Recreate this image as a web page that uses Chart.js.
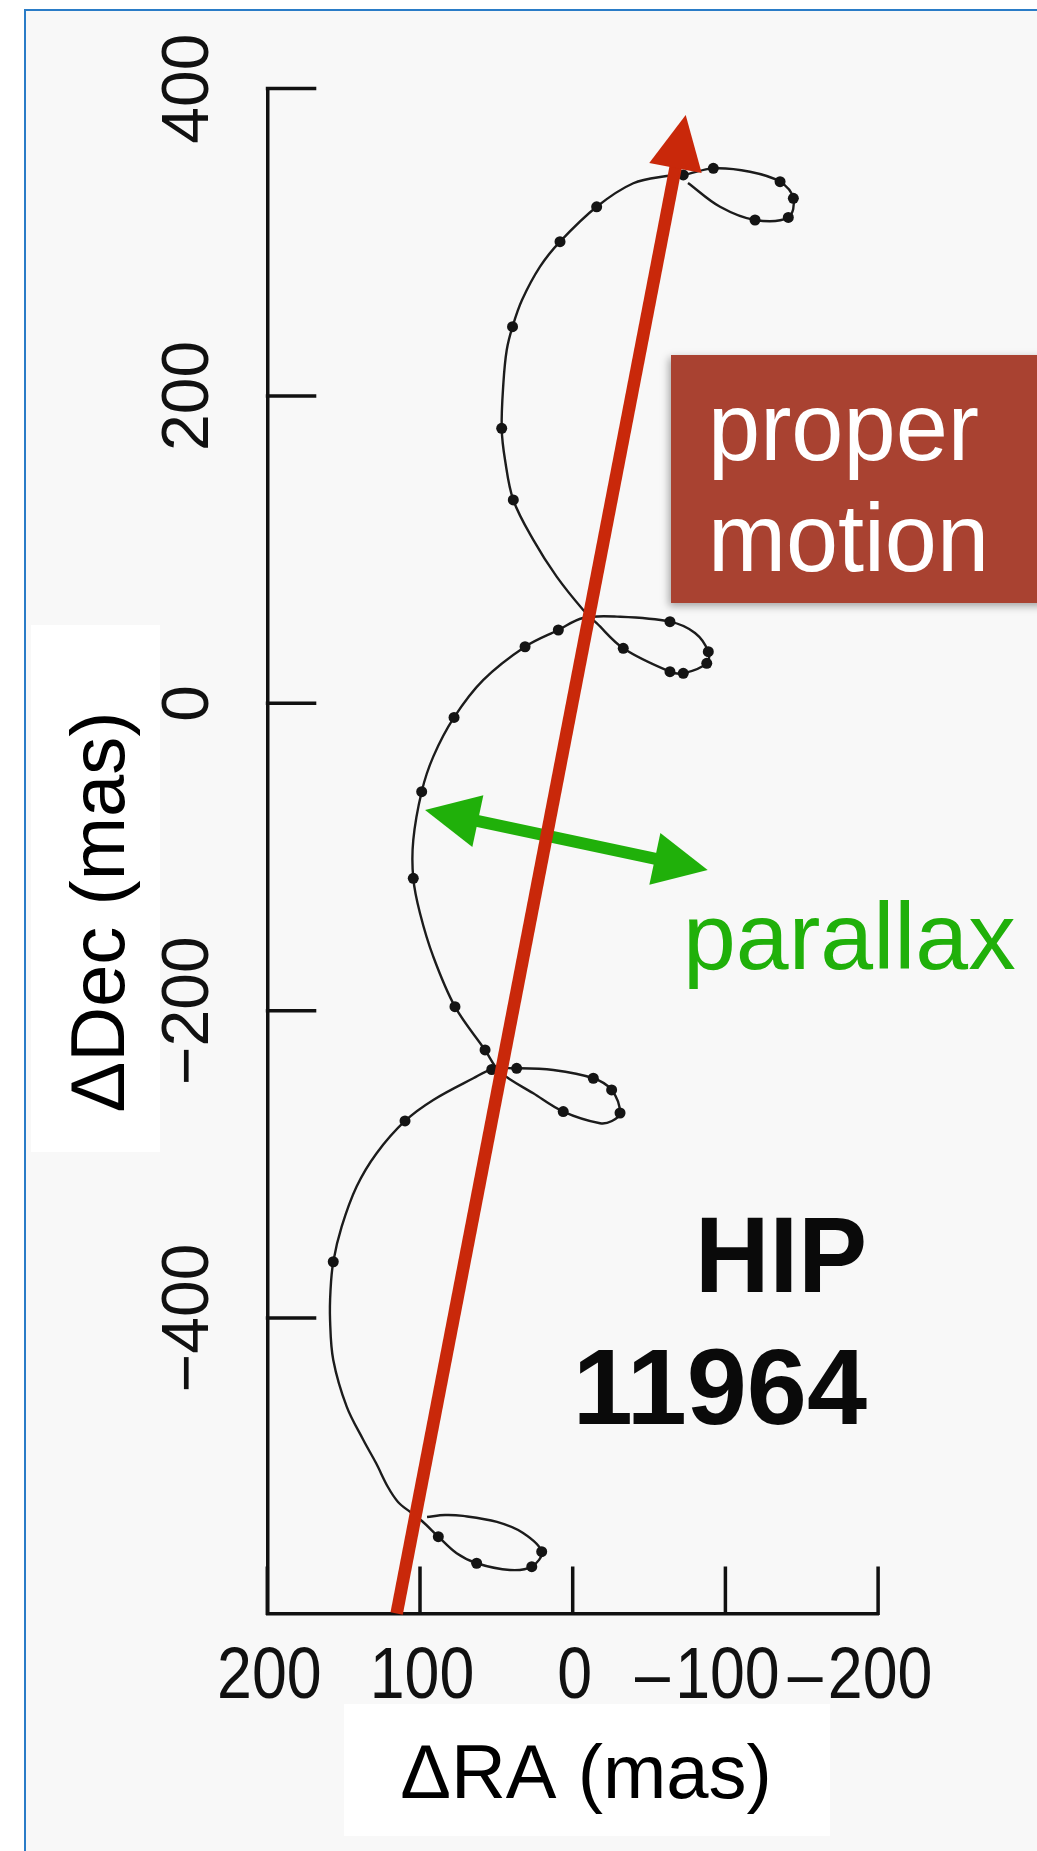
<!DOCTYPE html>
<html>
<head>
<meta charset="utf-8">
<script src="https://cdn.jsdelivr.net/npm/chart.js@4.4.1/dist/chart.umd.min.js"></script>
<style>
  html, body { margin: 0; padding: 0; background: #ffffff; }
  #wrap { width: 1037px; height: 1851px; position: relative; overflow: hidden; }
  canvas { display: block; }
</style>
</head>
<body>
<div id="wrap"><canvas id="c" width="1037" height="1851"></canvas></div>
<script>
// ---- data (mas) ----
const curveRA = [95.4, 83.6, 71.8, 49.6, 32.5, 20.3, 26.8, 41.1, 62.9, 76.0,
  88.0, 98.7, 106.5, 114.4, 121.0, 128.8, 137.1, 148.0, 156.8, 158.9, 158.6,
  156.8, 151.3, 141.5, 128.4, 109.8, 91.3, 65.1, 53.0, 36.7, 12.7,
  -13.5, -25.5, -31.0, -25.7, -17.9, 6.2, 25.8, 47.6, 57.4, 77.1,
  91.3, 100.0, 104.4, 104.4, 98.9, 91.3, 77.7, 58.5, 31.2, 9.4,
  -6.7, -29.0, -63.7, -80.1, -88.8, -87.8, -72.4, -63.7, -33.1, -15.7,
  -6.9, 10.5, 25.8, 38.9, 44.3, 46.5, 45.4, 43.2, 39.4, 33.2,
  21.4, 8.3, -15.7, -39.7, -61.6, -72.4, -92.1, -116.1, -135.8, -144.5,
  -141.2, -119.4, -96.5, -75.5];
const curveDec = [-529.5, -528.2, -528.8, -532.7, -539.9, -552.1, -561.8, -564.0, -559.6, -553.1,
  -542.3, -532.1, -526.2, -519.7, -510.0, -494.4, -479.4, -457.7, -427.3, -401.3, -381.8,
  -363.4, -340.6, -314.5, -292.8, -271.8, -258.1, -244.0, -238.3, -237.5, -238.6,
  -244.0, -251.6, -266.6, -271.8, -273.3, -265.7, -253.8, -239.9, -225.6, -197.4,
  -164.9, -136.6, -113.9, -89.0, -57.5, -34.7, -9.2, 15.2, 36.8, 47.7,
  55.5, 56.4, 53.1, 45.7, 33.6, 26.0, 19.5, 20.6, 35.8, 52.1,
  60.7, 82.4, 106.3, 132.3, 158.3, 178.9, 208.2, 229.9, 245.1, 262.4,
  284.1, 300.4, 323.1, 338.4, 343.1, 343.8, 348.1, 345.9, 339.4, 328.6,
  316.2, 314.5, 323.1, 338.6];
const obsRA = [20.3, 26.8, 62.9, 88.0, 156.8, 109.8, 53.0, 36.7, -13.5, -25.5,
  -31.0, 6.2, 57.4, 77.1, 104.4, 98.9, 77.7, 31.2, 9.4, -63.7,
  -88.8, -87.8, -72.4, -63.7, -33.1, 38.9, 46.5, 39.4, 8.3, -15.7,
  -72.4, -92.1, -135.8, -144.5, -141.2, -119.4];
const obsDec = [-552.1, -561.8, -559.6, -542.3, -363.4, -271.8, -238.3, -237.5, -244.0, -251.6,
  -266.6, -265.7, -225.6, -197.4, -113.9, -57.5, -9.2, 36.8, 47.7, 53.1,
  33.6, 26.0, 19.5, 20.6, 35.8, 132.3, 178.9, 245.1, 300.4, 323.1,
  343.8, 348.1, 339.4, 328.6, 316.2, 314.5];
const properMotionRA = [115.3, -74.0];
const properMotionDec = [-592.3, 382.8];
const parallaxRA = [96.7, -88.4];
const parallaxDec = [-69.4, -108.5];
const raTicks = [200, 100, 0, -100, -200];
const decTicks = [400, 200, 0, -200, -400];
const raMin = -200, raMax = 200;
const decMin = -592.3, decMax = 400;

const toXY = (xs, ys) => xs.map((x, i) => ({ x: x, y: ys[i] }));
const fmt = v => (v < 0 ? '\u2212' + Math.abs(v) : String(v));

const W = 1037, H = 1851;

function arrowHead(ctx, tx, ty, ux, uy, len, half) {
  const px = -uy, py = ux;
  const bx = tx - ux * len, by = ty - uy * len;
  ctx.beginPath();
  ctx.moveTo(tx, ty);
  ctx.lineTo(bx + px * half, by + py * half);
  ctx.lineTo(bx - px * half, by - py * half);
  ctx.closePath();
  ctx.fill();
}
function drawArrow(ctx, p0, p1, color, width, len, half, both) {
  const dx = p1.x - p0.x, dy = p1.y - p0.y, L = Math.hypot(dx, dy);
  const ux = dx / L, uy = dy / L;
  const s = both ? len * 0.85 : 0, e = len * 0.85;
  ctx.save();
  ctx.strokeStyle = color; ctx.fillStyle = color;
  ctx.lineWidth = width; ctx.lineCap = 'butt';
  ctx.beginPath();
  ctx.moveTo(p0.x + ux * s, p0.y + uy * s);
  ctx.lineTo(p1.x - ux * e, p1.y - uy * e);
  ctx.stroke();
  arrowHead(ctx, p1.x, p1.y, ux, uy, len, half);
  if (both) arrowHead(ctx, p0.x, p0.y, -ux, -uy, len, half);
  ctx.restore();
}

const decor = {
  id: 'decor',
  beforeDraw(chart) {
    const ctx = chart.ctx;
    ctx.save();
    ctx.fillStyle = '#ffffff';
    ctx.fillRect(0, 0, W, H);
    ctx.fillStyle = '#f8f8f8';
    ctx.fillRect(25, 10, W - 25, H - 10);
    ctx.strokeStyle = '#2a7cc7';
    ctx.lineWidth = 2;
    ctx.beginPath();
    ctx.moveTo(25, H); ctx.lineTo(25, 10); ctx.lineTo(W, 10);
    ctx.stroke();
    ctx.fillStyle = '#ffffff';
    ctx.fillRect(31, 625, 129, 527);
    ctx.fillRect(344, 1704, 486, 132);
    ctx.restore();
  },
  afterDatasetsDraw(chart) {
    const ctx = chart.ctx;
    const g = chart.getDatasetMeta(1).data;
    drawArrow(ctx, g[0], g[1], '#20b00a', 12, 54, 26.5, true);
    const r = chart.getDatasetMeta(0).data;
    drawArrow(ctx, r[0], r[1], '#c9280a', 12.5, 54, 26.7, false);
  },
  afterDraw(chart) {
    const ctx = chart.ctx, a = chart.chartArea;
    const xs = chart.scales.x, ys = chart.scales.y;
    ctx.save();
    // inward tick marks
    ctx.strokeStyle = '#111111';
    ctx.lineWidth = 3.5;
    ctx.beginPath();
    ys.ticks.forEach(t => {
      const p = ys.getPixelForValue(t.value);
      ctx.moveTo(a.left - 1.5, p); ctx.lineTo(a.left + 49, p);
    });
    xs.ticks.forEach(t => {
      const p = xs.getPixelForValue(t.value);
      ctx.moveTo(p, a.bottom + 1.5); ctx.lineTo(p, a.bottom - 47);
    });
    ctx.stroke();

    // x tick labels (narrow face, digits centred on the tick, minus hanging left)
    ctx.fillStyle = '#111111';
    ctx.font = '72px "Liberation Sans", Arial, sans-serif';
    ctx.textBaseline = 'alphabetic';
    xs.ticks.forEach(t => {
      const p = xs.getPixelForValue(t.value);
      const digits = String(Math.abs(t.value));
      ctx.save();
      ctx.translate(p + 2, a.bottom + 84);
      ctx.scale(0.87, 1);
      ctx.textAlign = 'center';
      ctx.fillText(digits, 0, 0);
      if (t.value < 0) {
        const w = ctx.measureText(digits).width;
        ctx.textAlign = 'right';
        ctx.fillText('\u2013', -w / 2 - 6, 0);
      }
      ctx.restore();
    });

    // axis titles
    ctx.fillStyle = '#000000';
    ctx.font = '76px "Liberation Sans", Arial, sans-serif';
    ctx.textAlign = 'center';
    ctx.textBaseline = 'alphabetic';
    ctx.fillText('\u0394RA (mas)', 586, 1798, 384);
    ctx.save();
    ctx.translate(124, 912);
    ctx.rotate(-Math.PI / 2);
    ctx.fillText('\u0394Dec (mas)', 0, 0, 415);
    ctx.restore();

    // proper motion label box
    ctx.save();
    ctx.shadowColor = 'rgba(0,0,0,0.35)';
    ctx.shadowBlur = 8;
    ctx.shadowOffsetX = -2;
    ctx.shadowOffsetY = 3;
    ctx.fillStyle = '#a94231';
    ctx.fillRect(671, 355, W - 671 + 10, 248);
    ctx.restore();
    ctx.fillStyle = '#ffffff';
    ctx.textAlign = 'left';
    ctx.font = '96px "Liberation Sans", Arial, sans-serif';
    ctx.fillText('proper', 708, 460, 271);
    ctx.fillText('motion', 708, 571, 281);

    // parallax label
    ctx.fillStyle = '#20b00a';
    ctx.font = '95px "Liberation Sans", Arial, sans-serif';
    ctx.fillText('parallax', 683, 969, 333);

    // star name
    ctx.fillStyle = '#0a0a0a';
    ctx.textAlign = 'right';
    ctx.font = 'bold 108px "Liberation Sans", Arial, sans-serif';
    ctx.fillText('HIP', 867, 1292, 172);
    ctx.fillText('11964', 867, 1424, 309);
    ctx.restore();
  }
};

new Chart(document.getElementById('c'), {
  type: 'scatter',
  data: {
    datasets: [
      { label: 'proper motion', data: toXY(properMotionRA, properMotionDec),
        showLine: false, pointRadius: 0, order: 0 },
      { label: 'parallax', data: toXY(parallaxRA, parallaxDec),
        showLine: false, pointRadius: 0, order: 1 },
      { label: 'observations', data: toXY(obsRA, obsDec), showLine: false,
        pointRadius: 5.5, pointBackgroundColor: '#141414', pointBorderWidth: 0, order: 2 },
      { label: 'path', data: toXY(curveRA, curveDec), showLine: true,
        borderColor: '#1c1c1c', borderWidth: 2.4, pointRadius: 0, tension: 0.35, order: 3 }
    ]
  },
  options: {
    responsive: false,
    animation: false,
    devicePixelRatio: 1,
    events: [],
    layout: { padding: { left: 0, top: 88.6, right: 158.9, bottom: 0 } },
    plugins: { legend: { display: false }, tooltip: { enabled: false } },
    scales: {
      x: {
        type: 'linear', reverse: true, min: raMin, max: raMax,
        afterBuildTicks: s => { s.ticks = raTicks.map(v => ({ value: v })); },
        afterFit: s => { s.height = H - 1613.5; },
        grid: { display: false, drawTicks: false },
        border: { display: true, color: '#111111', width: 3.5 },
        ticks: { display: false, callback: v => fmt(v) }
      },
      y: {
        type: 'linear', min: decMin, max: decMax,
        afterBuildTicks: s => { s.ticks = decTicks.map(v => ({ value: v })); },
        afterFit: s => { s.width = 267.3; },
        grid: { display: false, drawTicks: false },
        border: { display: true, color: '#111111', width: 3.5 },
        ticks: {
          autoSkip: false, minRotation: 90, maxRotation: 90, crossAlign: 'center', padding: 3,
          color: '#111111',
          font: { family: '"Liberation Sans", Arial, sans-serif', size: 66 },
          callback: v => fmt(v)
        }
      }
    }
  },
  plugins: [decor]
});
</script>
</body>
</html>
